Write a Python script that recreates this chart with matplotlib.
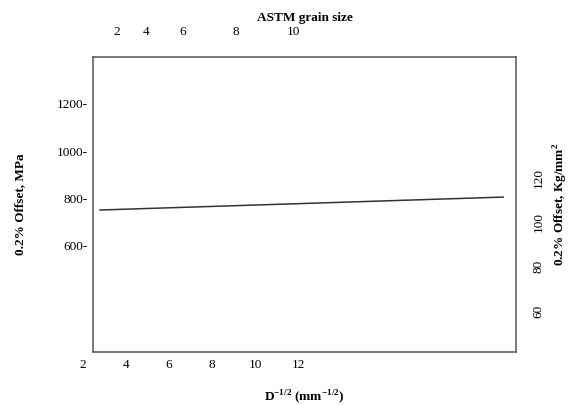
import matplotlib
matplotlib.use('Agg')
import matplotlib.pyplot as plt

plt.rcParams['font.family'] = ['Liberation Serif', 'DejaVu Serif']
plt.rcParams['mathtext.fontset'] = 'custom'
plt.rcParams['mathtext.rm'] = 'Liberation Serif'
plt.rcParams['mathtext.bf'] = 'Liberation Serif:bold'

# data
d_inv_sqrt = [2.8, 21.5]           # D^-1/2 (mm^-1/2)
offset_mpa = [749, 804]            # 0.2% offset, MPa

bottom_ticks = [2, 4, 6, 8, 10, 12]
left_ticks = [600, 800, 1000, 1200]
right_ticks = [60, 80, 100, 120]
astm_ticks = [2, 4, 6, 8, 10]
astm_pos = [3.58, 4.93, 6.65, 9.12, 11.77]   # where the grain size labels sit on the D^-1/2 scale

fig = plt.figure(figsize=(5.69, 4.05), dpi=100)
ax = fig.add_axes([0.1634, 0.1309, 0.7435, 0.7284])

ax.plot(d_inv_sqrt, offset_mpa, color='#333333', linewidth=1.1)
ax.set_xlim(2.47, 22.1)
ax.set_ylim(145, 1400)

for s in ax.spines.values():
    s.set_color('#555555')
    s.set_linewidth(1.1)

fs = 9.5
# bottom labels (the "2" sits left of the box, so draw them as text)
ax.set_xticks([])
for v in bottom_ticks:
    ax.text(v, -0.045, str(v), transform=ax.get_xaxis_transform(),
            ha='center', va='center', fontsize=fs, clip_on=False)

ax.set_yticks(left_ticks)
ax.set_yticklabels(['%d-' % v for v in left_ticks], fontsize=fs)
ax.tick_params(axis='y', length=0, pad=4)

ax.set_xlabel(r'D$^{\mathbf{-1/2}}$ (mm$^{\mathbf{-1/2}}$)', fontsize=fs, fontweight='bold', labelpad=26)
ax.set_ylabel('0.2% Offset, MPa', fontsize=fs, fontweight='bold', labelpad=22)

# top axis: ASTM grain size
top = ax.twiny()
top.set_xlim(ax.get_xlim())
top.set_xticks(astm_pos)
top.set_xticklabels([str(v) for v in astm_ticks], fontsize=fs)
top.tick_params(axis='x', length=0, pad=14)
top.set_xlabel('ASTM grain size', fontsize=fs, fontweight='bold', labelpad=3)
for s in top.spines.values():
    s.set_visible(False)

# right axis: Kg/mm^2
right = ax.twinx()
right.set_ylim(41.5, 174.6)
right.set_yticks(right_ticks)
right.set_yticklabels([str(v) for v in right_ticks], fontsize=fs, rotation=90, va='center')
right.tick_params(axis='y', length=0, pad=12)
right.set_ylabel(r'0.2% Offset, Kg/mm$^{\mathbf{2}}$', fontsize=fs, fontweight='bold', labelpad=5)
for s in right.spines.values():
    s.set_visible(False)

fig.savefig('out.png', dpi=100)
